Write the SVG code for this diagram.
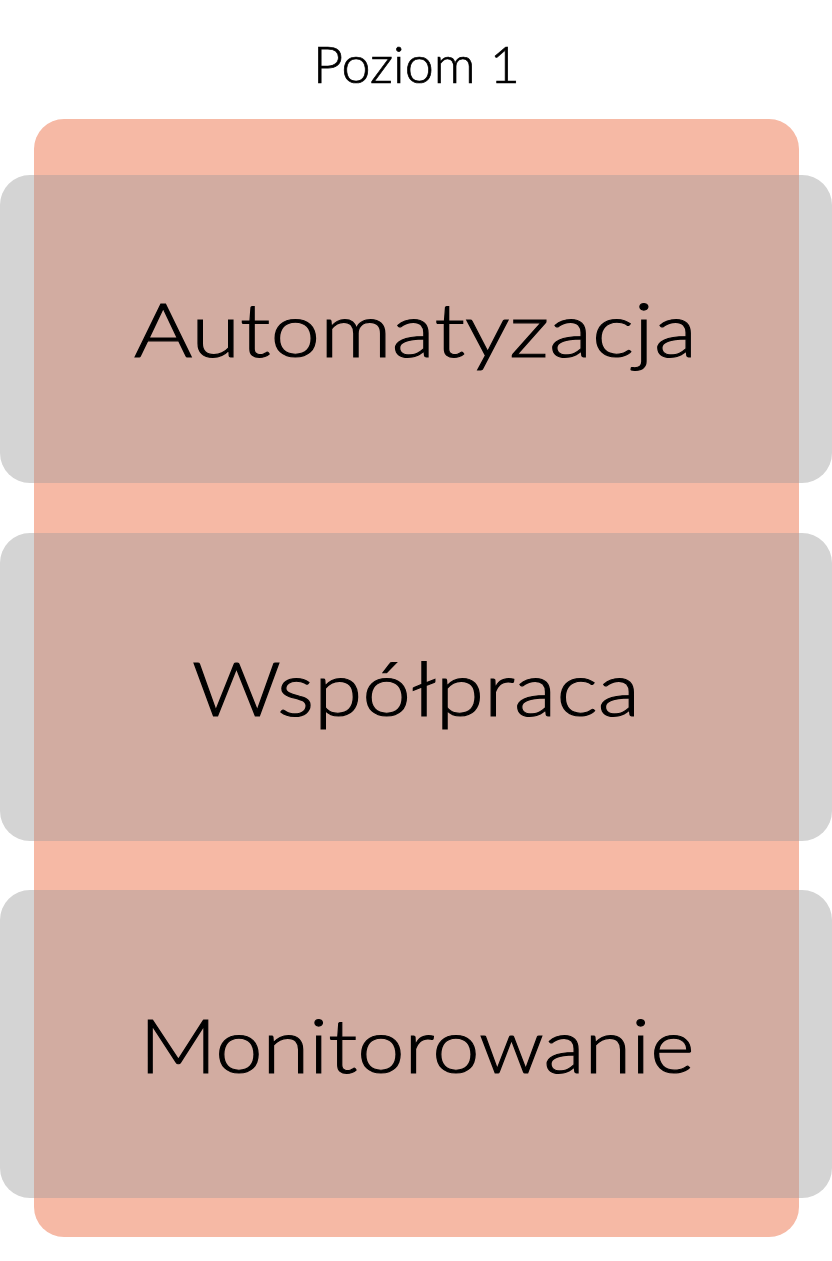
<svg xmlns="http://www.w3.org/2000/svg" width="832" height="1261" viewBox="0 0 832 1261">
  <style>
    .bg { fill: #F6B9A5; }
    .card { fill: #D4D4D4; }
    .overlap { fill: #D2ACA1; }
    .label { font-family: Lato, "Open Sans", "Liberation Sans", sans-serif; font-weight: 300; fill: #000000; stroke: #000000; text-anchor: middle; }
    .big { font-size: 75px; stroke-width: 1.1px; }
    .title { font-size: 52px; stroke-width: 0.7px; }
  </style>
  <rect x="0" y="0" width="832" height="1261" fill="#FFFFFF"/>
  <g id="title">
    <text class="label title" x="416.5" y="83" textLength="207" lengthAdjust="spacingAndGlyphs">Poziom 1</text>
  </g>
  <g id="container">
    <rect class="bg" x="34" y="119" width="765" height="1118" rx="30" ry="30"/>
  </g>
  <g id="node-automatyzacja">
    <rect class="card" x="0" y="175" width="832" height="308" rx="30" ry="30"/>
    <rect class="overlap" x="34" y="175" width="765" height="308"/>
    <text class="label big" x="415.5" y="357" textLength="563" lengthAdjust="spacingAndGlyphs">Automatyzacja</text>
  </g>
  <g id="node-wspolpraca">
    <rect class="card" x="0" y="533" width="832" height="308" rx="30" ry="30"/>
    <rect class="overlap" x="34" y="533" width="765" height="308"/>
    <text class="label big" x="416" y="716" textLength="448" lengthAdjust="spacingAndGlyphs">Współpraca</text>
  </g>
  <g id="node-monitorowanie">
    <rect class="card" x="0" y="890" width="832" height="308" rx="30" ry="30"/>
    <rect class="overlap" x="34" y="890" width="765" height="308"/>
    <text class="label big" x="417" y="1073" textLength="555" lengthAdjust="spacingAndGlyphs">Monitorowanie</text>
  </g>
  <g id="connectors"></g>
</svg>
